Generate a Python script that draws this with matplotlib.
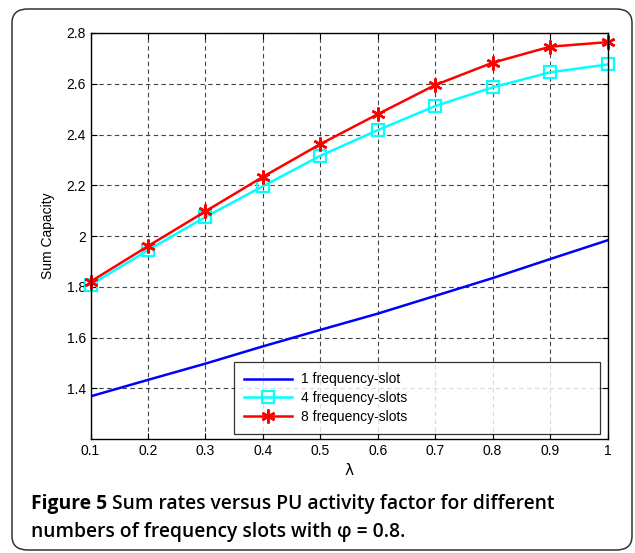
import matplotlib
matplotlib.use('Agg')
import matplotlib.pyplot as plt
from matplotlib.patches import FancyBboxPatch

# PU activity factor
lam = [0.1, 0.2, 0.3, 0.4, 0.5, 0.6, 0.7, 0.8, 0.9, 1.0]
slot1 = [1.368, 1.433, 1.497, 1.565, 1.630, 1.694, 1.764, 1.834, 1.909, 1.983]
slot4 = [1.807, 1.944, 2.075, 2.196, 2.316, 2.417, 2.512, 2.586, 2.645, 2.676]
slot8 = [1.820, 1.960, 2.097, 2.233, 2.362, 2.480, 2.595, 2.683, 2.746, 2.764]
labels = ['1 frequency-slot', '4 frequency-slots', '8 frequency-slots']
xticks = [0.1, 0.2, 0.3, 0.4, 0.5, 0.6, 0.7, 0.8, 0.9, 1]
yticks = [1.4, 1.6, 1.8, 2.0, 2.2, 2.4, 2.6, 2.8]

W, H = 635, 553
fig = plt.figure(figsize=(W / 100, H / 100), dpi=100)
plt.rcParams['font.family'] = ['Liberation Sans', 'DejaVu Sans']

# rounded frame around figure + caption
frame = FancyBboxPatch((12 / W, 3 / H), 620 / W, 541 / H,
                       boxstyle='round,pad=0,rounding_size=0.025',
                       transform=fig.transFigure, fill=False,
                       edgecolor='#333333', linewidth=1.1)
fig.patches.append(frame)

ax = fig.add_axes([90.5 / W, 1 - 439 / H, 517 / W, 406 / H])
ax.plot(lam, slot1, color='#0000ff', lw=1.8, label=labels[0])
ax.plot(lam, slot4, color='#00ffff', lw=1.8, marker='s', ms=8,
        mfc='none', mec='#00ffff', mew=1.6, label=labels[1], clip_on=False)
ax.plot(lam, slot8, color='#ff0000', lw=1.8, marker=(6, 2, 0), ms=10,
        mec='#ff0000', mew=1.8, label=labels[2], clip_on=False)

ax.set_xlim(0.1, 1)
ax.set_ylim(1.2, 2.8)
ax.set_xticks(xticks)
ax.set_xticklabels(['0.1', '0.2', '0.3', '0.4', '0.5', '0.6', '0.7', '0.8', '0.9', '1'])
ax.set_yticks(yticks)
ax.set_yticklabels(['1.4', '1.6', '1.8', '2', '2.2', '2.4', '2.6', '2.8'])
ax.tick_params(direction='in', top=True, right=True, labelsize=10, length=4, width=0.8)
ax.grid(True, ls=(0, (4, 3)), color='#444444', lw=0.8)
for s in ax.spines.values():
    s.set_linewidth(1.0)
ax.set_xlabel('λ', fontsize=11, family=['DejaVu Sans'])
ax.set_ylabel('Sum Capacity', fontsize=10, labelpad=8)

leg = ax.legend(loc='upper left', bbox_to_anchor=(0.2776, 0.0123, 0.708, 0.1773),
                mode='expand', fontsize=10, frameon=True, fancybox=False,
                edgecolor='black', borderaxespad=0, handlelength=3.45,
                labelspacing=0.33, borderpad=0.75, handletextpad=0.65)
leg.get_frame().set_linewidth(0.9)

# caption
cap = dict(fontsize=13.9, family=['Open Sans', 'DejaVu Sans'], transform=fig.transFigure)
t1 = fig.text(31 / W, 1 - 509 / H, 'Figure 5', fontweight='bold', **cap)
fig.canvas.draw()
bb = t1.get_window_extent()
fig.text(bb.x1 / W + 5 / W, 1 - 509 / H,
         'Sum rates versus PU activity factor for different', fontweight='semibold', **cap)
fig.text(31 / W, 1 - 537 / H,
         'numbers of frequency slots with φ = 0.8.', fontweight='semibold', **cap)

fig.savefig('out.png', dpi=100)
